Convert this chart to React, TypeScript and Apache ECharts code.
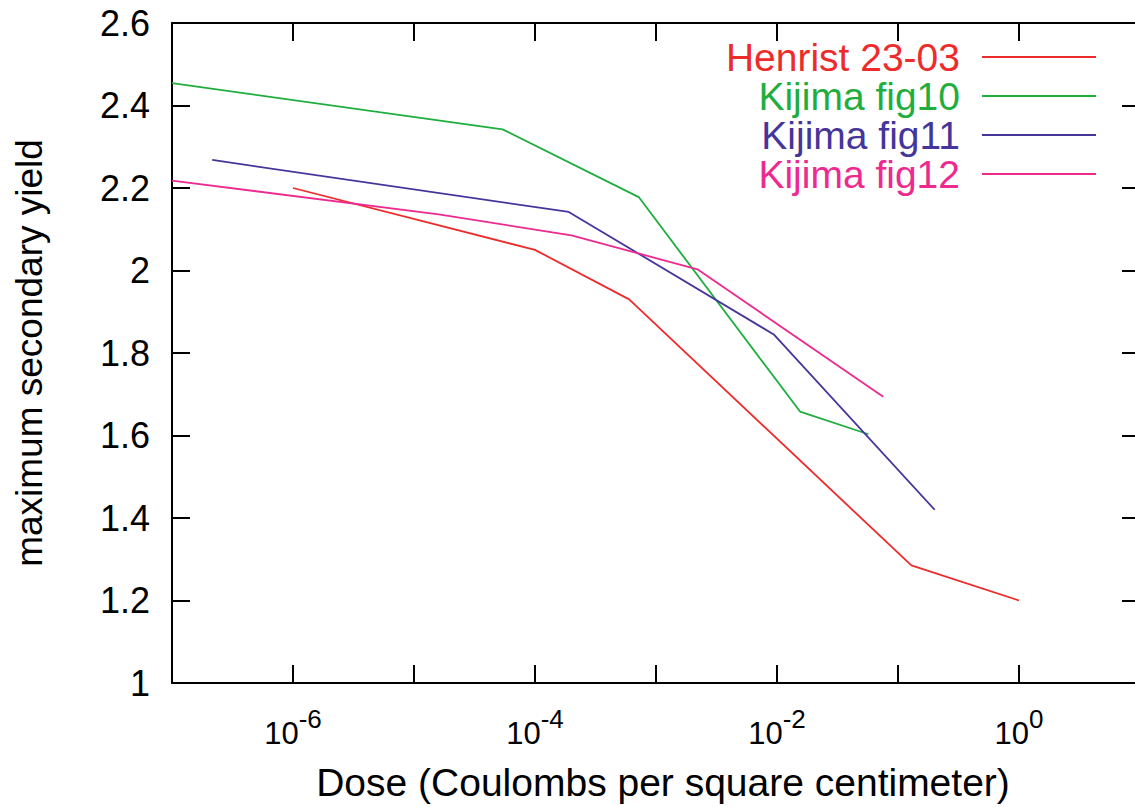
import React, { useEffect, useRef } from "react";
import * as echarts from "echarts";

const FONT = "'Liberation Sans', Arial, Helvetica, sans-serif";

const seriesNames = ["Henrist 23-03", "Kijima fig10", "Kijima fig11", "Kijima fig12"];
const seriesColors = ["#ee2b2b", "#1fae3e", "#45359b", "#ec2a8f"];

const henristX = [1e-6, 1e-4, 6.0e-4, 0.129, 1.0];
const henristY = [2.2, 2.05, 1.93, 1.285, 1.2];

const fig10X = [1e-7, 5.4e-5, 7.2e-4, 1.55e-2, 5.7e-2];
const fig10Y = [2.454, 2.342, 2.178, 1.658, 1.603];

const fig11X = [2.15e-7, 1.9e-4, 9.4e-3, 0.201];
const fig11Y = [2.268, 2.142, 1.845, 1.42];

const fig12X = [1e-7, 1.6e-5, 2.0e-4, 2.2e-3, 7.55e-2];
const fig12Y = [2.218, 2.136, 2.085, 2.003, 1.694];

const xMin = 1e-7;
const xMax = 10;
const yMin = 1;
const yMax = 2.6;
const yStep = 0.2;

const xTitle = "Dose (Coulombs per square centimeter)";
const yTitle = "maximum secondary yield";

const allX = [henristX, fig10X, fig11X, fig12X];
const allY = [henristY, fig10Y, fig11Y, fig12Y];

export default function App() {
  const ref = useRef<HTMLDivElement>(null);

  useEffect(() => {
    document.body.style.margin = "0";
    const chart = echarts.init(ref.current!, null, { renderer: "svg" });

    const axisLine = { show: true, onZero: false, lineStyle: { color: "#000", width: 2 } };
    const axisTick = { show: true, inside: true, length: 18, lineStyle: { color: "#000", width: 2 } };

    const xLabelFormatter = (v: number) => {
      const e = Math.round(Math.log10(v));
      if (e % 2 !== 0) return "";
      return `{b|10}{s|${e}}`;
    };

    const series = seriesNames.map((name, i) => ({
      name,
      type: "line",
      xAxisIndex: 0,
      yAxisIndex: 0,
      showSymbol: false,
      symbol: "none",
      lineStyle: { color: seriesColors[i], width: 1.8 },
      data: allX[i].map((x, j) => [x, allY[i][j]]),
    }));

    const legendGraphics: any[] = [];
    seriesNames.forEach((name, i) => {
      const y = 57 + i * 39;
      legendGraphics.push({
        type: "text",
        x: 960,
        y,
        style: {
          text: name,
          fill: seriesColors[i],
          font: `39px ${FONT}`,
          textAlign: "right",
          textVerticalAlign: "middle",
        },
      });
      legendGraphics.push({
        type: "line",
        shape: { x1: 982, y1: y, x2: 1096, y2: y },
        style: { stroke: seriesColors[i], lineWidth: 1.8 },
      });
    });

    chart.setOption({
      animation: false,
      backgroundColor: "#fff",
      grid: { left: 172, right: 0, top: 23, bottom: 118 },
      xAxis: [
        {
          type: "log",
          logBase: 10,
          min: xMin,
          max: xMax,
          splitNumber: 8,
          position: "bottom",
          axisLine,
          axisTick,
          splitLine: { show: false },
          minorTick: { show: false },
          axisLabel: {
            margin: 23,
            formatter: xLabelFormatter,
            rich: {
              b: { fontSize: 31, fontFamily: FONT, color: "#000", lineHeight: 43, verticalAlign: "bottom" },
              s: { fontSize: 26, fontFamily: FONT, color: "#000", lineHeight: 26, verticalAlign: "top" },
            },
          },
          name: xTitle,
          nameLocation: "middle",
          nameGap: 80,
          nameTextStyle: {
            fontSize: 39,
            fontFamily: FONT,
            color: "#000",
            verticalAlign: "top",
            padding: [0, 0, 0, 14],
          },
        },
        {
          type: "log",
          logBase: 10,
          min: xMin,
          max: xMax,
          splitNumber: 8,
          position: "top",
          axisLine,
          axisTick,
          splitLine: { show: false },
          axisLabel: { show: false },
        },
      ],
      yAxis: [
        {
          type: "value",
          min: yMin,
          max: yMax,
          interval: yStep,
          position: "left",
          axisLine,
          axisTick,
          splitLine: { show: false },
          axisLabel: { margin: 22, fontSize: 36, fontFamily: FONT, color: "#000" },
          name: yTitle,
          nameLocation: "middle",
          nameGap: 124,
          nameRotate: 90,
          nameTextStyle: { fontSize: 37, fontFamily: FONT, color: "#000" },
        },
        {
          type: "value",
          min: yMin,
          max: yMax,
          interval: yStep,
          position: "right",
          axisLine,
          axisTick,
          splitLine: { show: false },
          axisLabel: { show: false },
        },
      ],
      series,
      graphic: legendGraphics,
    });

    return () => chart.dispose();
  }, []);

  return (
    <div style={{ width: 1135, height: 807, overflow: "hidden", position: "relative" }}>
      <div ref={ref} style={{ width: 1143, height: 807 }} />
    </div>
  );
}
